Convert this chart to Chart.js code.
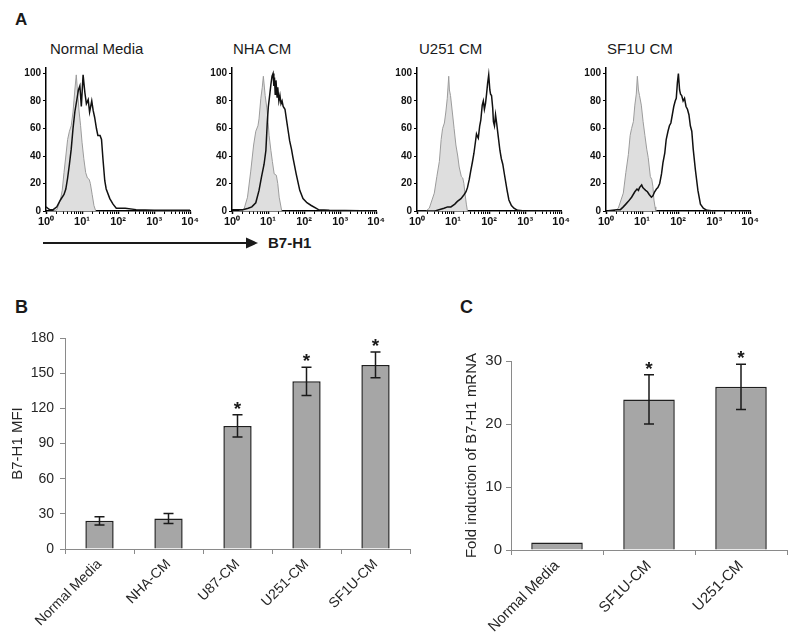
<!DOCTYPE html>
<html>
<head>
<meta charset="utf-8">
<script src="https://cdn.jsdelivr.net/npm/chart.js@4.4.1/dist/chart.umd.min.js"></script>
<style>
  body { margin: 0; background: #fff; }
  #fig { position: relative; width: 800px; height: 635px; overflow: hidden; font-family: Arial, "Liberation Sans", sans-serif; color: #1a1a1a; }
  #fig canvas { position: absolute; }
  .txt { position: absolute; line-height: 1; white-space: nowrap; }
  .panel { font-weight: bold; }
</style>
</head>
<body>
<div id="fig">
  <div class="txt panel" style="left:15px; top:11px; font-size:17px;">A</div>
  <div class="txt panel" style="left:15px; top:298px; font-size:18px;">B</div>
  <div class="txt panel" style="left:460px; top:298px; font-size:18px;">C</div>

  <div class="txt" style="left:50px; top:41px; font-size:15px;">Normal Media</div>
  <div class="txt" style="left:233px; top:41px; font-size:15px;">NHA CM</div>
  <div class="txt" style="left:419px; top:41px; font-size:15px;">U251 CM</div>
  <div class="txt" style="left:607px; top:41px; font-size:15px;">SF1U CM</div>

  <svg style="position:absolute; left:0; top:0;" width="800" height="260">
    <line x1="43" y1="243" x2="248" y2="243" stroke="#1a1a1a" stroke-width="2.2"/>
    <polygon points="246,237.5 258,243 246,248.5" fill="#1a1a1a"/>
  </svg>
  <div class="txt" style="left:268px; top:235px; font-size:15px; font-weight:bold;">B7-H1</div>

  <canvas id="h1" width="200" height="175" style="left:0px; top:60px;"></canvas>
  <canvas id="h2" width="200" height="175" style="left:186px; top:60px;"></canvas>
  <canvas id="h3" width="200" height="175" style="left:371px; top:60px;"></canvas>
  <canvas id="h4" width="200" height="175" style="left:560px; top:60px;"></canvas>

  <canvas id="barB" width="420" height="315" style="left:0px; top:320px;"></canvas>
  <canvas id="barC" width="380" height="315" style="left:420px; top:320px;"></canvas>
</div>

<script>
// ---- panel A: flow histograms (x = fluorescence, y = % of max) ----
const histXLabels = ['10\u2070', '10\u00B9', '10\u00B2', '10\u00B3', '10\u2074'];
const histYLabels = [0, 20, 40, 60, 80, 100];

// Normal Media
const nmIsoX = [1.58, 2.0, 2.51, 2.82, 3.16, 3.55, 3.98, 4.47, 5.01, 5.62, 6.31, 6.92, 7.59, 8.32, 9.12, 10, 11.2, 12.6, 14.1, 15.8, 17.0, 19.1, 21.4, 24.0];
const nmIsoY = [0, 1, 8, 15, 28, 40, 52, 58, 62, 72, 88, 99, 85, 72, 62, 50, 38, 28, 24, 23, 20, 12, 4, 0];
const nmX = [1, 1.12, 1.26, 1.58, 2.0, 2.51, 3.16, 3.55, 3.98, 4.47, 5.01, 5.62, 6.31, 7.08, 7.94, 8.71, 9.55, 10.7, 12.0, 13.2, 14.8, 16.2, 18.6, 20.4, 22.4, 25.1, 27.5, 31.6, 34.7, 38.0, 42.7, 46.8, 58.9, 72.4, 89.1, 158, 316, 1000, 10000];
const nmY = [3, 2, 1, 1, 3, 8, 12, 16, 24, 34, 45, 60, 72, 80, 88, 91, 76, 99, 86, 78, 81, 72, 80, 73, 68, 60, 55, 55, 52, 38, 22, 16, 9, 5, 2, 2, 1, 0.5, 0.5];

// NHA CM
const nhaIsoX = [1.58, 2.0, 2.19, 2.69, 3.31, 3.98, 4.57, 5.25, 5.62, 6.31, 6.92, 7.41, 8.32, 9.55, 10.7, 12.0, 13.2, 14.8, 17.0, 18.6, 20.4, 24.0];
const nhaIsoY = [0, 0.5, 2, 10, 29, 48, 58, 62, 67, 82, 90, 98, 84, 72, 55, 44, 36, 27, 26, 20, 10, 0];
const nhaX = [1, 2.0, 2.82, 3.55, 4.57, 5.62, 6.61, 7.76, 8.71, 9.55, 10.2, 11.2, 12.0, 12.9, 13.8, 14.5, 15.1, 15.8, 16.6, 17.8, 18.6, 20.0, 21.4, 22.9, 24.5, 26.3, 29.5, 33.1, 36.3, 39.8, 44.7, 49.0, 60.3, 75.9, 93.3, 120, 158, 251, 501, 10000];
const nhaY = [1, 1, 2, 3, 6, 15, 25, 34, 44, 65, 76, 85, 92, 98, 100, 91, 97, 85, 95, 83, 90, 80, 84, 78, 80, 76, 74, 65, 58, 51, 45, 39, 27, 15, 9, 6, 4, 1, 0.5, 0];

// U251 CM
const u251IsoX = [1.78, 2.19, 3.02, 3.55, 4.17, 4.68, 5.13, 5.75, 6.31, 6.92, 7.59, 7.94, 8.51, 9.55, 10.7, 12.0, 13.5, 14.8, 17.0, 18.6, 20.0, 21.4, 23.4, 25.1];
const u251IsoY = [0, 2, 13, 25, 36, 52, 60, 64, 72, 82, 98, 88, 84, 72, 60, 48, 40, 32, 25, 24, 20, 13, 5, 0];
const u251X = [1, 3.16, 5.62, 7.08, 8.71, 11.2, 13.2, 16.6, 20.4, 22.9, 25.1, 28.2, 30.9, 34.7, 38.0, 41.7, 44.7, 47.9, 50.1, 55.0, 58.9, 64.6, 69.2, 74.1, 79.4, 85.1, 91.2, 97.7, 105, 110, 117, 126, 132, 141, 151, 162, 178, 200, 219, 240, 269, 316, 355, 417, 490, 617, 1000, 10000];
const u251Y = [0, 0, 2, 3, 3, 5, 7, 9, 12, 14, 17, 23, 29, 36, 42, 50, 56, 54, 53, 62, 66, 77, 80, 74, 78, 85, 93, 99, 88, 85, 84, 75, 65, 62, 70, 64, 55, 44, 38, 34, 26, 15, 8, 4, 2, 0.5, 0, 0];

// SF1U CM
const sf1uIsoX = [1.78, 2.19, 3.02, 3.55, 4.17, 4.68, 5.13, 5.75, 6.31, 6.92, 7.41, 7.94, 8.51, 9.55, 10.7, 12.0, 13.5, 14.8, 17.0, 18.6, 20.0, 21.4, 22.9, 24.0];
const sf1uIsoY = [0, 2, 13, 28, 41, 55, 60, 65, 77, 85, 98, 88, 84, 77, 65, 55, 45, 39, 25, 23, 18, 8, 3, 0];
const sf1uX = [1, 2.0, 2.51, 3.02, 3.55, 4.17, 5.13, 6.31, 7.24, 7.94, 8.51, 9.12, 9.77, 10.5, 11.5, 12.6, 14.1, 15.8, 18.2, 20.0, 22.4, 25.1, 27.5, 30.9, 34.7, 38.0, 42.7, 46.8, 52.5, 57.5, 63.1, 69.2, 75.9, 83.2, 89.1, 95.5, 102, 110, 117, 126, 138, 151, 166, 182, 200, 219, 240, 263, 302, 355, 417, 501, 631, 1000, 10000];
const sf1uY = [0, 1, 1, 3, 5, 7, 10, 14, 16, 15, 17, 18, 19, 17, 16, 15, 14, 12, 10, 11, 14, 16, 17, 20, 27, 35, 42, 52, 58, 62, 64, 70, 76, 80, 82, 93, 100, 88, 85, 84, 80, 82, 76, 74, 70, 62, 58, 45, 30, 15, 5, 2, 0.5, 0, 0];

// ---- panel B: surface B7-H1 MFI ----
const mfiLabels = ['Normal Media', 'NHA-CM', 'U87-CM', 'U251-CM', 'SF1U-CM'];
const mfiValues = [24, 26, 105, 143, 157];
const mfiErrors = [3.5, 4.3, 9.5, 12, 11];
const mfiStars = [false, false, true, true, true];
const mfiTicks = [0, 30, 60, 90, 120, 150, 180];

// ---- panel C: B7-H1 mRNA fold induction ----
const mrnaLabels = ['Normal Media', 'SF1U-CM', 'U251-CM'];
const mrnaValues = [1.2, 23.9, 25.9];
const mrnaErrors = [0, 3.9, 3.6];
const mrnaStars = [false, true, true];
const mrnaTicks = [0, 10, 20, 30];

Chart.defaults.font.family = 'Arial, "Liberation Sans", sans-serif';
Chart.defaults.color = '#262626';

function isPow10(v) {
  const e = Math.round(Math.log10(v));
  return Math.abs(v - Math.pow(10, e)) < 1e-9;
}

function histogram(id, isoX, isoY, stX, stY) {
  new Chart(document.getElementById(id), {
    type: 'line',
    data: {
      datasets: [
        {
          data: stX.map((x, i) => ({ x: x, y: stY[i] })),
          borderColor: '#111', borderWidth: 1.5, pointRadius: 0, fill: false, order: 0
        },
        {
          data: isoX.map((x, i) => ({ x: x, y: isoY[i] })),
          borderColor: '#9c9c9c', borderWidth: 1, backgroundColor: '#dedede',
          pointRadius: 0, fill: 'origin', order: 1
        }
      ]
    },
    options: {
      responsive: false, animation: false, devicePixelRatio: 1,
      layout: { padding: { top: 5, right: 9, left: 0, bottom: 0 } },
      plugins: { legend: { display: false }, tooltip: { enabled: false } },
      scales: {
        x: {
          type: 'logarithmic', min: 1, max: 10000, z: 1,
          border: { color: '#000', width: 1.5 },
          grid: { drawOnChartArea: false, color: '#000', tickLength: 3,
                  tickWidth: c => (c.tick && isPow10(c.tick.value)) ? 1.5 : 1 },
          afterBuildTicks: s => {
            s.ticks = s.ticks.filter(t => {
              const m = t.value / Math.pow(10, Math.floor(Math.log10(t.value) + 1e-9));
              return Math.abs(m - Math.round(m)) < 1e-6;
            });
          },
          ticks: {
            autoSkip: false, maxRotation: 0, minRotation: 0, padding: 1, color: '#111',
            font: { size: 11, weight: 'bold' },
            callback: v => isPow10(v) ? histXLabels[Math.round(Math.log10(v))] : ''
          },
          afterFit: s => { s.height = 24; }
        },
        y: {
          min: 0, max: 104, z: 1,
          border: { color: '#000', width: 1.5 },
          grid: { drawOnChartArea: false, color: '#000', tickLength: 3 },
          ticks: {
            stepSize: 10, includeBounds: false, padding: 2, color: '#111',
            font: { size: 10, weight: 'bold' },
            callback: v => histYLabels.includes(v) ? v : ''
          },
          afterFit: s => { s.width = 46; }
        }
      }
    }
  });
}

histogram('h1', nmIsoX, nmIsoY, nmX, nmY);
histogram('h2', nhaIsoX, nhaIsoY, nhaX, nhaY);
histogram('h3', u251IsoX, u251IsoY, u251X, u251Y);
histogram('h4', sf1uIsoX, sf1uIsoY, sf1uX, sf1uY);

function errorBarPlugin(values, errors, stars) {
  return {
    id: 'errorBars',
    afterDatasetsDraw(chart) {
      const ctx = chart.ctx;
      const y = chart.scales.y;
      const meta = chart.getDatasetMeta(0);
      ctx.save();
      ctx.strokeStyle = '#1a1a1a';
      ctx.fillStyle = '#1a1a1a';
      ctx.lineWidth = 1.5;
      ctx.font = 'bold 19px Arial, "Liberation Sans", sans-serif';
      ctx.textAlign = 'center';
      ctx.textBaseline = 'alphabetic';
      meta.data.forEach((bar, i) => {
        const top = y.getPixelForValue(values[i] + errors[i]);
        const bot = y.getPixelForValue(values[i] - errors[i]);
        if (errors[i] > 0) {
          ctx.beginPath();
          ctx.moveTo(bar.x, top); ctx.lineTo(bar.x, bot);
          ctx.moveTo(bar.x - 5, top); ctx.lineTo(bar.x + 5, top);
          ctx.moveTo(bar.x - 5, bot); ctx.lineTo(bar.x + 5, bot);
          ctx.stroke();
        }
        if (stars[i]) ctx.fillText('*', bar.x, top);
      });
      ctx.restore();
    }
  };
}

function barPanel(id, labels, values, errors, stars, ticks, opts) {
  new Chart(document.getElementById(id), {
    type: 'bar',
    data: {
      labels: labels,
      datasets: [{
        data: values,
        backgroundColor: '#a6a6a6',
        borderColor: '#1f1f1f',
        borderWidth: 1.5,
        categoryPercentage: 1,
        barPercentage: opts.barPct
      }]
    },
    options: {
      responsive: false, animation: false, devicePixelRatio: 1,
      layout: { padding: { top: opts.top, right: opts.right, left: 0, bottom: 0 } },
      plugins: { legend: { display: false }, tooltip: { enabled: false } },
      scales: {
        x: {
          border: { color: '#8a8a8a', width: 1 },
          grid: { offset: true, drawOnChartArea: false, color: '#8a8a8a', tickLength: 5 },
          ticks: { autoSkip: false, minRotation: 45, maxRotation: 45, padding: 2,
                   font: { size: opts.labelSize }, color: '#262626' },
          afterFit: s => { s.height = opts.xHeight; }
        },
        y: {
          min: ticks[0], max: ticks[ticks.length - 1],
          border: { color: '#8a8a8a', width: 1 },
          grid: { drawOnChartArea: false, color: '#8a8a8a', tickLength: 5 },
          afterBuildTicks: s => { s.ticks = ticks.map(v => ({ value: v })); },
          ticks: { padding: opts.tickPad, font: { size: opts.tickSize }, color: '#262626' },
          title: { display: true, text: opts.yTitle, font: { size: 15 }, color: '#262626',
                   padding: { top: opts.titlePad, bottom: 0 } },
          afterFit: s => { s.width = opts.yWidth; }
        }
      }
    },
    plugins: [errorBarPlugin(values, errors, stars)]
  });
}

barPanel('barB', mfiLabels, mfiValues, mfiErrors, mfiStars, mfiTicks, {
  barPct: 0.41, top: 18, right: 10, xHeight: 86, yWidth: 65, labelSize: 14,
  tickSize: 14, tickPad: 6, titlePad: 9, yTitle: 'B7-H1 MFI'
});

barPanel('barC', mrnaLabels, mrnaValues, mrnaErrors, mrnaStars, mrnaTicks, {
  barPct: 0.56, top: 41, right: 13, xHeight: 85, yWidth: 91, labelSize: 15,
  tickSize: 15, tickPad: 4, titlePad: 43, yTitle: 'Fold induction of B7-H1 mRNA'
});
</script>
</body>
</html>
